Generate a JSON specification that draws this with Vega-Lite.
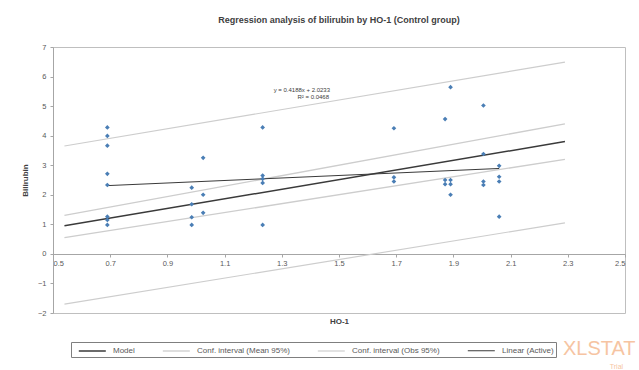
{
  "$schema": "https://vega.github.io/schema/vega-lite/v6.json",
  "width": 572,
  "height": 266,
  "autosize": {"type": "none"},
  "padding": {"left": 53, "top": 47, "right": 14, "bottom": 57},
  "background": "white",
  "title": {
    "text": "Regression analysis of bilirubin by HO-1 (Control group)",
    "fontSize": 9,
    "fontWeight": "bold",
    "font": "Liberation Sans",
    "color": "#404040",
    "anchor": "middle",
    "offset": 18
  },
  "config": {
    "view": {"stroke": "#bfbfbf", "strokeWidth": 1},
    "font": "Liberation Sans",
    "axis": {
      "grid": false,
      "domainColor": "#a6a6a6",
      "tickColor": "#a6a6a6",
      "tickSize": 3,
      "labelFontSize": 7.5,
      "labelColor": "#595959",
      "labelOverlap": false,
      "titleFontSize": 8,
      "titleFontWeight": "bold",
      "titleColor": "#404040",
      "labelFont": "Liberation Sans",
      "titleFont": "Liberation Sans"
    },
    "axisX": {
      "format": ".1f",
      "offset": -59,
      "titlePadding": 51
    },
    "axisY": {
      "values": [-2, -1, 0, 1, 2, 3, 4, 5, 6, 7],
      "format": "d",
      "titlePadding": 8,
      "labelPadding": 4
    },
    "legend": {
      "orient": "none",
      "legendX": 18,
      "legendY": 295,
      "direction": "horizontal",
      "columns": 4,
      "strokeColor": "#7f7f7f",
      "padding": 2,
      "labelFontSize": 8,
      "labelColor": "#595959",
      "labelFont": "Liberation Sans",
      "symbolType": "M-0.2,0L4.3,0",
      "symbolSize": 144,
      "symbolStrokeWidth": 1.5,
      "labelOffset": 26,
      "columnPadding": 22
    }
  },
  "datasets": {
    "points": [
      {"ho1": 0.69, "bili": 4.28}, {"ho1": 0.69, "bili": 3.99}, {"ho1": 0.69, "bili": 3.66}, {"ho1": 0.69, "bili": 2.71},
      {"ho1": 0.69, "bili": 2.33}, {"ho1": 0.69, "bili": 1.26}, {"ho1": 0.69, "bili": 1.15}, {"ho1": 0.69, "bili": 0.98},
      {"ho1": 0.985, "bili": 2.24}, {"ho1": 0.985, "bili": 1.68}, {"ho1": 0.985, "bili": 1.24}, {"ho1": 0.985, "bili": 0.98},
      {"ho1": 1.025, "bili": 3.25}, {"ho1": 1.025, "bili": 2.0}, {"ho1": 1.025, "bili": 1.39},
      {"ho1": 1.233, "bili": 4.28}, {"ho1": 1.233, "bili": 2.65}, {"ho1": 1.233, "bili": 2.54}, {"ho1": 1.233, "bili": 2.4}, {"ho1": 1.233, "bili": 0.98},
      {"ho1": 1.692, "bili": 4.25}, {"ho1": 1.692, "bili": 2.59}, {"ho1": 1.692, "bili": 2.45},
      {"ho1": 1.871, "bili": 4.56}, {"ho1": 1.871, "bili": 2.5}, {"ho1": 1.871, "bili": 2.36},
      {"ho1": 1.89, "bili": 5.64}, {"ho1": 1.89, "bili": 2.5}, {"ho1": 1.89, "bili": 2.36}, {"ho1": 1.89, "bili": 2.0},
      {"ho1": 2.005, "bili": 5.02}, {"ho1": 2.005, "bili": 3.38}, {"ho1": 2.005, "bili": 2.45}, {"ho1": 2.005, "bili": 2.33},
      {"ho1": 2.06, "bili": 2.98}, {"ho1": 2.06, "bili": 2.61}, {"ho1": 2.06, "bili": 2.45}, {"ho1": 2.06, "bili": 1.26}
    ],
    "lines": [
      {"series": "Model", "part": "m", "ho1": 0.54, "bili": 0.95},
      {"series": "Model", "part": "m", "ho1": 2.29, "bili": 3.8},
      {"series": "Conf. interval (Mean 95%)", "part": "mu", "ho1": 0.54, "bili": 1.3},
      {"series": "Conf. interval (Mean 95%)", "part": "mu", "ho1": 2.29, "bili": 4.4},
      {"series": "Conf. interval (Mean 95%)", "part": "ml", "ho1": 0.54, "bili": 0.55},
      {"series": "Conf. interval (Mean 95%)", "part": "ml", "ho1": 2.29, "bili": 3.2},
      {"series": "Conf. interval (Obs 95%)", "part": "ou", "ho1": 0.54, "bili": 3.65},
      {"series": "Conf. interval (Obs 95%)", "part": "ou", "ho1": 2.29, "bili": 6.49},
      {"series": "Conf. interval (Obs 95%)", "part": "ol", "ho1": 0.54, "bili": -1.7},
      {"series": "Conf. interval (Obs 95%)", "part": "ol", "ho1": 2.29, "bili": 1.05},
      {"series": "Linear (Active)", "part": "lin", "ho1": 0.69, "bili": 2.31},
      {"series": "Linear (Active)", "part": "lin", "ho1": 2.06, "bili": 2.89}
    ]
  },
  "layer": [
    {
      "data": {"name": "lines"},
      "mark": {"type": "line", "clip": true},
      "encoding": {
        "x": {
          "field": "ho1", "type": "quantitative",
          "scale": {"domain": [0.5, 2.5], "nice": false, "zero": false},
          "axis": {
            "title": "HO-1",
            "values": [0.5, 0.7, 0.9, 1.1, 1.3, 1.5, 1.7, 1.9, 2.1, 2.3, 2.5]
          }
        },
        "y": {
          "field": "bili", "type": "quantitative",
          "scale": {"domain": [-2, 7], "nice": false, "zero": false},
          "axis": {"title": "Bilirubin"}
        },
        "detail": {"field": "part"},
        "color": {
          "field": "series", "type": "nominal",
          "scale": {
            "domain": ["Model", "Conf. interval (Mean 95%)", "Conf. interval (Obs 95%)", "Linear (Active)"],
            "range": ["#3a3a3a", "#cdcdcd", "#cdcdcd", "#3a3a3a"]
          },
          "legend": {"title": null}
        },
        "strokeWidth": {
          "field": "series", "type": "nominal",
          "scale": {
            "domain": ["Model", "Conf. interval (Mean 95%)", "Conf. interval (Obs 95%)", "Linear (Active)"],
            "range": [1.5, 1, 1, 1.5]
          },
          "legend": null
        }
      }
    },
    {
      "data": {"name": "points"},
      "mark": {"type": "point", "shape": "diamond", "filled": true, "size": 22, "color": "#4a7eb5", "opacity": 1},
      "encoding": {
        "x": {"field": "ho1", "type": "quantitative", "title": "HO-1"},
        "y": {"field": "bili", "type": "quantitative", "title": "Bilirubin"}
      }
    },
    {
      "data": {"values": [{}]},
      "mark": {"type": "text", "text": "y = 0.4188x + 2.0233", "fontSize": 6, "color": "#404040", "align": "center"},
      "encoding": {"x": {"datum": 1.37, "title": "HO-1"}, "y": {"datum": 5.55, "title": "Bilirubin"}}
    },
    {
      "data": {"values": [{}]},
      "mark": {"type": "text", "text": "R² = 0.0468", "fontSize": 6, "color": "#404040", "align": "center"},
      "encoding": {"x": {"datum": 1.41, "title": "HO-1"}, "y": {"datum": 5.31, "title": "Bilirubin"}}
    },
    {
      "data": {"values": [{}]},
      "mark": {"type": "text", "text": "XLSTAT", "fontSize": 20, "color": "#f4b183", "opacity": 0.75, "align": "center", "baseline": "middle"},
      "encoding": {"x": {"datum": 2.41, "title": "HO-1"}, "y": {"datum": -3.22, "title": "Bilirubin"}}
    },
    {
      "data": {"values": [{}]},
      "mark": {"type": "text", "text": "Trial", "fontSize": 7, "color": "#f4b183", "opacity": 0.75, "align": "center", "baseline": "middle"},
      "encoding": {"x": {"datum": 2.47, "title": "HO-1"}, "y": {"datum": -3.83, "title": "Bilirubin"}}
    }
  ]
}
